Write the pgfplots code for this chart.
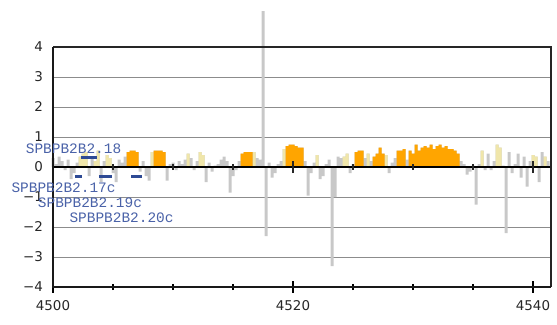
\documentclass[border=0pt]{standalone}
\usepackage{pgfplots}
\pgfplotsset{compat=1.18}
\usepackage{fontspec}
\setmainfont{DejaVu Sans}
\newfontfamily\labfont{Liberation Mono}
\definecolor{sgray}{HTML}{C8C8C8}
\definecolor{beige}{HTML}{F0E6AA}
\definecolor{orng}{HTML}{FFA500}
\definecolor{gblue}{HTML}{2E4A94}
\definecolor{tblue}{HTML}{4A62A8}
\begin{document}
\begin{tikzpicture}
\begin{axis}[
  scale only axis, width=498bp, height=240bp,
  anchor=south west, at={(0,0)},
  xmin=4500, xmax=4541.5, ymin=-4, ymax=4,
  clip=false,
  axis line style={draw=none},
  xtick={4500,4520,4540}, xticklabels={4500,4520,4540},
  minor xtick={4505,4510,4515,4525,4530,4535},
  ytick={-4,-3,-2,-1,0,1,2,3,4},
  yticklabels={−4,−3,−2,−1,0,1,2,3,4},
  xtick pos=bottom, ytick pos=left,
  tick align=center,
  x tick style={black, line width=1.2bp},
  major tick length=11bp, minor tick length=6bp,
  y tick style={draw=none},
  ymajorgrids, grid style={gray!90, line width=1bp},
  tick label style={font=\fontsize{13.5}{16}\selectfont, text=black!85},
  xticklabel style={yshift=-4bp},
  yticklabel style={xshift=-1bp},
]
% gray signal
\addplot[ybar, bar width=0.25, bar shift=0pt, fill=sgray, draw=none] coordinates {
(4500.00,0.30) (4500.25,0.10) (4500.50,0.35) (4500.75,0.20) (4501.00,-0.10)
(4501.25,0.25) (4501.50,-0.40) (4501.75,-0.20) (4502.00,0.15) (4502.25,0.35)
(4502.50,0.45) (4502.75,0.50) (4503.00,-0.30) (4503.25,0.30) (4503.50,0.20)
(4503.75,0.55) (4504.00,-0.50) (4504.25,0.20) (4504.50,0.40) (4504.75,0.30)
(4505.00,-0.20) (4505.25,-0.50) (4505.50,0.25) (4505.75,0.15) (4506.00,0.35)
(4506.25,0.50) (4506.50,0.55) (4506.75,0.55) (4507.00,0.50) (4507.25,-0.15)
(4507.50,0.20) (4507.75,-0.30) (4508.00,-0.45) (4508.25,0.50) (4508.50,0.55)
(4508.75,0.55) (4509.00,0.55) (4509.25,0.50) (4509.50,-0.45) (4509.75,0.10)
(4510.00,0.15) (4510.25,-0.10) (4510.50,0.20) (4510.75,0.10) (4511.00,0.25)
(4511.25,0.45) (4511.50,0.30) (4511.75,-0.10) (4512.00,0.20) (4512.25,0.50)
(4512.50,0.40) (4512.75,-0.50) (4513.00,0.15) (4513.25,-0.15) (4513.50,0.05)
(4513.75,0.10) (4514.00,0.25) (4514.25,0.35) (4514.50,0.20) (4514.75,-0.85)
(4515.00,-0.30) (4515.25,-0.10) (4515.50,0.20) (4515.75,0.45) (4516.00,0.50)
(4516.25,0.50) (4516.50,0.50) (4516.75,0.50) (4517.00,0.30) (4517.25,0.25)
(4517.50,5.20) (4517.75,-2.30) (4518.00,0.15) (4518.25,-0.35) (4518.50,-0.20)
(4518.75,0.10) (4519.00,0.20) (4519.25,0.60) (4519.50,0.70) (4519.75,0.75)
(4520.00,0.75) (4520.25,0.70) (4520.50,0.65) (4520.75,0.65) (4521.00,0.20)
(4521.25,-0.95) (4521.50,-0.20) (4521.75,0.15) (4522.00,0.40) (4522.25,-0.40)
(4522.50,-0.30) (4522.75,0.10) (4523.00,0.25) (4523.25,-3.30) (4523.50,-1.00)
(4523.75,0.35) (4524.00,0.30) (4524.25,0.35) (4524.50,0.45) (4524.75,-0.20)
(4525.00,0.10) (4525.25,0.50) (4525.50,0.55) (4525.75,0.55) (4526.00,0.30)
(4526.25,0.45) (4526.50,0.20) (4526.75,0.35) (4527.00,0.45) (4527.25,0.65)
(4527.50,0.45) (4527.75,0.40) (4528.00,-0.20) (4528.25,0.15) (4528.50,0.30)
(4528.75,0.55) (4529.00,0.55) (4529.25,0.60) (4529.50,0.25) (4529.75,0.55)
(4530.00,0.45) (4530.25,0.75) (4530.50,0.55) (4530.75,0.65) (4531.00,0.70)
(4531.25,0.65) (4531.50,0.75) (4531.75,0.60) (4532.00,0.70) (4532.25,0.75)
(4532.50,0.65) (4532.75,0.70) (4533.00,0.60) (4533.25,0.60) (4533.50,0.55)
(4533.75,0.45) (4534.00,0.20) (4534.25,0.10) (4534.50,-0.25) (4534.75,-0.15)
(4535.00,0.05) (4535.25,-1.25) (4535.50,0.10) (4535.75,0.55) (4536.00,-0.10)
(4536.25,0.45) (4536.50,-0.10) (4536.75,0.20) (4537.00,0.75) (4537.25,0.65)
(4537.50,0.05) (4537.75,-2.20) (4538.00,0.50) (4538.25,-0.20) (4538.50,0.10)
(4538.75,0.45) (4539.00,-0.35) (4539.25,0.35) (4539.50,-0.65) (4539.75,0.20)
(4540.00,0.40) (4540.25,0.35) (4540.50,-0.50) (4540.75,0.50) (4541.00,0.35)
(4541.25,0.20)
};
% beige highlights
\addplot[ybar, bar width=0.25, bar shift=0pt, fill=beige, draw=none] coordinates {
(4502.25,0.35) (4502.50,0.45) (4502.75,0.50) (4503.50,0.20) (4503.75,0.55)
(4504.50,0.40) (4504.75,0.30) (4508.25,0.50) (4511.25,0.45) (4512.25,0.50)
(4512.50,0.40) (4516.75,0.50) (4519.25,0.60) (4522.00,0.40) (4524.25,0.35)
(4524.50,0.45) (4526.25,0.45) (4527.75,0.40) (4535.75,0.55) (4537.00,0.75)
(4537.25,0.65) (4540.00,0.40) (4540.25,0.35) (4541.00,0.35)
};
% orange highlights
\addplot[ybar, bar width=0.25, bar shift=0pt, fill=orng, draw=none] coordinates {
(4506.25,0.50) (4506.50,0.55) (4506.75,0.55) (4507.00,0.50)
(4508.50,0.55) (4508.75,0.55) (4509.00,0.55) (4509.25,0.50)
(4515.75,0.45) (4516.00,0.50) (4516.25,0.50) (4516.50,0.50)
(4519.50,0.70) (4519.75,0.75) (4520.00,0.75) (4520.25,0.70) (4520.50,0.65) (4520.75,0.65)
(4525.25,0.50) (4525.50,0.55) (4525.75,0.55)
(4526.75,0.35) (4527.00,0.45) (4527.25,0.65) (4527.50,0.45)
(4528.75,0.55) (4529.00,0.55) (4529.25,0.60)
(4529.75,0.55) (4530.00,0.45) (4530.25,0.75) (4530.50,0.55) (4530.75,0.65)
(4531.00,0.70) (4531.25,0.65) (4531.50,0.75) (4531.75,0.60) (4532.00,0.70)
(4532.25,0.75) (4532.50,0.65) (4532.75,0.70) (4533.00,0.60) (4533.25,0.60)
(4533.50,0.55) (4533.75,0.45)
};
% zero line and its ticks
\draw[black, line width=1.5bp] (axis cs:4500,0) -- (axis cs:4541.5,0);
\pgfplotsinvokeforeach{4505,4510,4515,4525,4530,4535}{
  \draw[black!85, line width=1.2bp] (axis cs:#1,-0.1) -- (axis cs:#1,0.1);
}
\pgfplotsinvokeforeach{4520,4540}{
  \draw[black!85, line width=1.2bp] (axis cs:#1,-0.2) -- (axis cs:#1,0.2);
}
% frame
\draw[black!85, line width=1.2bp] (rel axis cs:0,1) -- (rel axis cs:1,1) -- (rel axis cs:1,0);
\draw[black!90, line width=2bp] (rel axis cs:0,1) -- (rel axis cs:0,0) -- (rel axis cs:1,0);
% genes
\addplot[gblue, line width=3bp] coordinates {(4502.33,0.32) (4503.67,0.32)};
\addplot[gblue, line width=3bp] coordinates {(4501.83,-0.33) (4502.42,-0.33)};
\addplot[gblue, line width=3bp] coordinates {(4503.83,-0.33) (4504.92,-0.33)};
\addplot[gblue, line width=3bp] coordinates {(4506.50,-0.33) (4507.42,-0.33)};
\node[text=tblue, font=\labfont\fontsize{14.5}{16}\selectfont] at (axis cs:4501.71,0.60) {SPBPB2B2.18};
\node[text=tblue, font=\labfont\fontsize{14.5}{16}\selectfont] at (axis cs:4500.88,-0.70) {SPBPB2B2.17c};
\node[text=tblue, font=\labfont\fontsize{14.5}{16}\selectfont] at (axis cs:4503.08,-1.20) {SPBPB2B2.19c};
\node[text=tblue, font=\labfont\fontsize{14.5}{16}\selectfont] at (axis cs:4505.71,-1.70) {SPBPB2B2.20c};
\end{axis}
\pgfresetboundingbox
\path (-53bp,-38bp) rectangle (504bp,287bp);
\end{tikzpicture}
\end{document}
